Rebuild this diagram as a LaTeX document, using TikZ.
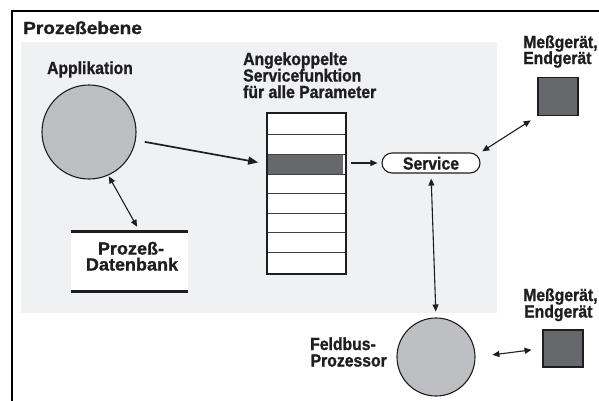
\documentclass[tikz,border=0pt]{standalone}
\usepackage{fontspec}
\setmainfont{Liberation Sans}[BoldFeatures={FakeBold=1.2}]
\usetikzlibrary{arrows.meta}
\definecolor{panel}{RGB}{240,241,243}
\definecolor{disk}{RGB}{190,191,195}
\definecolor{dev}{RGB}{103,104,108}
\definecolor{ink}{RGB}{30,30,32}
% bold label text, slightly narrowed
\newcommand{\labtxt}[1]{\scalebox{0.9}[1]{\bfseries\fontsize{17.5}{18}\selectfont #1}}
\newcommand{\bigtxt}[2]{\scalebox{#1}[1]{\bfseries\fontsize{17.5}{18}\selectfont #2}}
\tikzset{
  lbl/.style={inner sep=0pt, text=ink},
  proc/.style={circle, draw=ink, line width=1.1pt, fill=disk, inner sep=0pt},
  device/.style={draw=ink, line width=1.1pt, fill=dev, inner sep=0pt},
  link/.style={draw=ink, line width=1.1pt, -{Triangle[length=7pt,width=6pt]}},
  dlink/.style={draw=ink, line width=1.1pt, {Triangle[length=7pt,width=6pt]}-{Triangle[length=7pt,width=6pt]}},
  biglink/.style={draw=ink, line width=1.7pt, -{Triangle[length=10pt,width=8pt]}},
}
\begin{document}
\begin{tikzpicture}[x=1pt, y=-1pt]
\useasboundingbox (0,0) rectangle (599,400);
% outer frame and shaded area
\draw[line width=2.5pt, black] (12,402) -- (12,11) -- (601,11);
\fill[panel] (21,42) rectangle (497,313);
\node[lbl, anchor=base west] (title) at (23,34) {\bigtxt{1.09}{Prozeßebene}};

% application
\node[proc, minimum size=94pt] (app) at (89,132) {};
\node[lbl, anchor=base] (applbl) at (90,74) {\labtxt{Applikation}};

% process database
\fill[white] (71,232) rectangle (188,291);
\node[inner sep=0pt, minimum width=117pt, minimum height=59pt] (db) at (129.5,261.5) {};
\draw[ink, line width=3pt] (db.north west) -- (db.north east);
\draw[ink, line width=3pt] (db.south west) -- (db.south east);
\node[lbl, anchor=base] (dblbl) at (131,254.5) {\bigtxt{1.03}{Prozeß-}};
\node[lbl, anchor=base] (dblbl2) at (132,270.5) {\bigtxt{1.03}{Datenbank}};
\coordinate (dbin) at (140,232);

% service table
\node[inner sep=0pt, minimum width=79pt, minimum height=161pt, fill=white] (tbl) at (306.5,193.5) {};
\fill[dev] (267,154) rectangle (343,174);
\foreach \yy in {134,154,174,193,213,232,252}
  \draw[ink!85, line width=0.9pt] (267,\yy) -- (346,\yy);
\draw[ink, line width=2pt] (tbl.north west) rectangle (tbl.south east);
\node[lbl, anchor=base west] (tbllbl) at (243,65) {\labtxt{Angekoppelte}};
\node[lbl, anchor=base west] (tbllbl2) at (243,81.5) {\labtxt{Servicefunktion}};
\node[lbl, anchor=base west] (tbllbl3) at (243,98) {\labtxt{für alle Parameter}};
\coordinate (tblin) at (267,164);
\coordinate (tblout) at (346,163);

% service
\node[draw=ink, line width=1.1pt, rounded corners=10pt, minimum width=98pt, minimum height=20pt, inner sep=0pt, fill=white] (svc) at (431,163) {};
\node[lbl, anchor=base] (svclbl) at (431,169.5) {\labtxt{Service}};

% field bus processor
\node[proc, minimum size=78pt] (fbp) at (436,357) {};
\node[lbl, anchor=base east] (fbplbl) at (376,350) {\labtxt{Feldbus-}};
\node[lbl, anchor=base east] (fbplbl2) at (387,366.5) {\labtxt{Prozessor}};

% devices
\node[device, minimum width=40pt, minimum height=38pt] (dev1) at (558,96.5) {};
\node[lbl, anchor=base west] (dev1a) at (523,48) {\labtxt{Meßgerät,}};
\node[lbl, anchor=base west] (dev1b) at (523,64) {\labtxt{Endgerät}};
\node[device, minimum width=40pt, minimum height=37pt] (dev2) at (563,348.5) {};
\node[lbl, anchor=base west] (dev2a) at (523,301) {\labtxt{Meßgerät,}};
\node[lbl, anchor=base west] (dev2b) at (524,317.5) {\labtxt{Endgerät}};

% connectors
\draw[biglink, shorten <=9pt, shorten >=9pt] (app.-10.4) -- (tblin);
\draw[dlink, shorten <=1pt, shorten >=6pt] (app.-66) -- (dbin);
\draw[link, shorten <=5pt, shorten >=4pt] (tblout) -- (svc.west);
\draw[dlink, shorten <=2pt, shorten >=8pt] (svc.north east) -- (dev1.south west);
\draw[dlink, shorten <=5pt, shorten >=6pt] (svc.south) -- (fbp.north);
\draw[dlink, shorten <=17pt, shorten >=11pt] (fbp.east) -- (dev2.west);
\end{tikzpicture}
\end{document}
